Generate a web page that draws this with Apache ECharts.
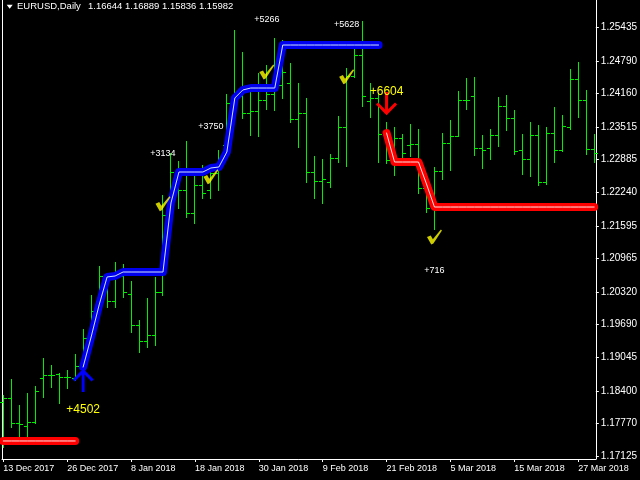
<!DOCTYPE html>
<html><head><meta charset="utf-8">
<script src="https://cdn.jsdelivr.net/npm/echarts@6/dist/echarts.min.js"></script>
<style>html,body{margin:0;padding:0;background:#000}#c{width:640px;height:480px}</style>
</head><body><div id="c"></div>
<script>
const dates = ['13 Dec 2017','14 Dec 2017','15 Dec 2017','18 Dec 2017','19 Dec 2017','20 Dec 2017','21 Dec 2017','22 Dec 2017',
'26 Dec 2017','27 Dec 2017','28 Dec 2017','29 Dec 2017','2 Jan 2018','3 Jan 2018','4 Jan 2018','5 Jan 2018',
'8 Jan 2018','9 Jan 2018','10 Jan 2018','11 Jan 2018','12 Jan 2018','15 Jan 2018','16 Jan 2018','17 Jan 2018',
'18 Jan 2018','19 Jan 2018','22 Jan 2018','23 Jan 2018','24 Jan 2018','25 Jan 2018','26 Jan 2018','29 Jan 2018',
'30 Jan 2018','31 Jan 2018','1 Feb 2018','2 Feb 2018','5 Feb 2018','6 Feb 2018','7 Feb 2018','8 Feb 2018',
'9 Feb 2018','12 Feb 2018','13 Feb 2018','14 Feb 2018','15 Feb 2018','16 Feb 2018','19 Feb 2018','20 Feb 2018',
'21 Feb 2018','22 Feb 2018','23 Feb 2018','26 Feb 2018','27 Feb 2018','28 Feb 2018','1 Mar 2018','2 Mar 2018',
'5 Mar 2018','6 Mar 2018','7 Mar 2018','8 Mar 2018','9 Mar 2018','12 Mar 2018','13 Mar 2018','14 Mar 2018',
'15 Mar 2018','16 Mar 2018','19 Mar 2018','20 Mar 2018','21 Mar 2018','22 Mar 2018','23 Mar 2018','26 Mar 2018',
'27 Mar 2018','28 Mar 2018','29 Mar 2018'];
const open = [1.18185,1.18263,1.17779,1.17720,1.17798,1.18650,1.18708,1.18728,1.18670,1.18650,
1.18883,1.19425,1.20142,1.20548,1.20142,1.20626,1.20277,1.19677,1.19367,1.19483,
1.20316,1.22001,1.22640,1.22292,1.21846,1.22389,1.22292,1.22621,1.23163,1.23977,
1.24112,1.23783,1.23822,1.24035,1.24151,1.24326,1.24364,1.23667,1.23783,1.22640,
1.22466,1.22447,1.22912,1.23512,1.24500,1.24907,1.24016,1.24074,1.23376,1.22873,
1.23299,1.23163,1.23183,1.22330,1.21943,1.22660,1.23202,1.23338,1.24035,1.24112,
1.23105,1.23105,1.23357,1.23919,1.23686,1.23067,1.22892,1.23357,1.22447,1.23396,
1.23067,1.23512,1.24442,1.24035,1.23086];
const high = [1.18321,1.18631,1.18127,1.18360,1.18495,1.19038,1.18902,1.18747,1.18805,1.19115,
1.19599,1.20258,1.20820,1.20587,1.20897,1.20858,1.20529,1.19774,1.20200,1.20607,
1.22195,1.23008,1.22853,1.23241,1.22582,1.22776,1.22737,1.23067,1.24151,1.25391,
1.24965,1.24267,1.24558,1.24713,1.25236,1.25197,1.24752,1.24364,1.24074,1.22950,
1.22892,1.22989,1.23725,1.24655,1.25100,1.25565,1.24364,1.24171,1.23609,1.23512,
1.23376,1.23570,1.23473,1.22427,1.22737,1.23396,1.23648,1.24209,1.24461,1.24481,
1.23357,1.23473,1.24093,1.24132,1.23841,1.23376,1.23609,1.23551,1.23512,1.23899,
1.23744,1.24635,1.24771,1.24229,1.23376];
const low = [1.17314,1.17701,1.17507,1.17507,1.17779,1.18282,1.18476,1.18166,1.18456,1.18611,
1.18863,1.19580,1.20103,1.20025,1.20025,1.20219,1.19541,1.19154,1.19251,1.19289,
1.20258,1.21904,1.21943,1.21769,1.21652,1.22137,1.22137,1.22292,1.23125,1.23938,
1.23686,1.23357,1.23338,1.23861,1.23841,1.24074,1.23609,1.23125,1.22447,1.22137,
1.22040,1.22350,1.22834,1.22757,1.24481,1.23919,1.23706,1.22834,1.22815,1.22582,
1.22931,1.22950,1.22234,1.21866,1.21536,1.22505,1.22679,1.23338,1.23861,1.22970,
1.22718,1.22892,1.23144,1.23454,1.22989,1.22602,1.22563,1.22389,1.22408,1.22834,
1.23047,1.23473,1.23706,1.22989,1.22834];
const close = [1.18263,1.17779,1.17759,1.17798,1.18398,1.18708,1.18708,1.18670,1.18670,1.18883,
1.19425,1.19948,1.20626,1.20142,1.20626,1.20316,1.19677,1.19367,1.19483,1.20316,
1.21807,1.22640,1.22292,1.21846,1.22389,1.22234,1.22621,1.22873,1.23977,1.24151,
1.23783,1.23822,1.24035,1.24151,1.24326,1.24577,1.23667,1.23783,1.22640,1.22466,
1.22505,1.22912,1.23512,1.24500,1.24907,1.24112,1.24074,1.23376,1.22873,1.23299,
1.23008,1.23183,1.22330,1.21943,1.22660,1.23202,1.23338,1.24035,1.24035,1.23105,
1.23067,1.23357,1.23919,1.23686,1.23047,1.22892,1.23357,1.22447,1.23396,1.23067,
1.23531,1.24442,1.24035,1.23086,1.23008];

const dateTickIdx = [0,8,16,24,32,40,48,56,64,72];
const priceTicks = [1.17125,1.17770,1.18400,1.19045,1.19690,1.20320,1.20965,1.21595,1.22240,1.22885,1.23515,1.24160,1.24790,1.25435];

const blueStart = 10;
const blueLine = [1.18863,1.19444,1.20064,1.20607,1.20626,1.20703,1.20703,1.20703,1.20703,1.20703,
1.20703,1.22040,1.22640,1.22640,1.22640,1.22640,1.22718,1.22737,1.23028,1.24074,
1.24229,1.24267,1.24267,1.24267,1.24267,1.25100,1.25100,1.25100,1.25100,1.25100,
1.25100,1.25100,1.25100,1.25100,1.25100,1.25100,1.25100,1.25100];
const redStart1 = 0;
const redLine1 = [1.17430,1.17430,1.17430,1.17430,1.17430,1.17430,1.17430,1.17430,1.17430,1.17430];
const redStart2 = 48;
const redLine2 = [1.23396,1.22834,1.22834,1.22834,1.22834,1.22408,1.21962,1.21962,1.21962,1.21962,
1.21962,1.21962,1.21962,1.21962,1.21962,1.21962,1.21962,1.21962,1.21962,1.21962,
1.21962,1.21962,1.21962,1.21962,1.21962,1.21962,1.21962];

const arrowIdx = [10, 48];
const arrowPrice = [1.18786, 1.23783];
const arrowDir = ['up', 'down'];

const labelIdx = [10, 48, 20, 26, 33, 43, 54];
const labelPrice = [1.18040, 1.24196, 1.22999, 1.23512, 1.25590, 1.25494, 1.20732];
const labelText = ['+4502', '+6604', '+3134', '+3750', '+5266', '+5628', '+716'];
const labelKind = ['entry', 'entry', 'exit', 'exit', 'exit', 'exit', 'exit'];

const checkIdx = [20, 26, 33, 43, 54];
const checkPrice = [1.22026, 1.22549, 1.24577, 1.24486, 1.21381];

const symbolName = 'EURUSD,Daily';
const headerQuote = '1.16644 1.16889 1.15836 1.15982';

const FONT = 'Liberation Sans, Arial, sans-serif';
const GREEN = '#00ee00';
const Y_MIN = 1.17081, Y_MAX = 1.25972;

const chart = echarts.init(document.getElementById('c'), null, {renderer: 'canvas'});

function lineSeries(start, vals, color, width, z) {
  return {
    type: 'line', data: vals.map((v, k) => [start + k, v]),
    symbol: 'none', showSymbol: false, silent: true, z: z,
    lineStyle: {color: color, width: width, cap: 'round', join: 'round'}
  };
}

const option = {
  backgroundColor: '#000000',
  animation: false,
  grid: {left: 2, right: 43, top: 0, bottom: 21, containLabel: false},
  xAxis: {
    type: 'value', min: -0.1625, max: 74.2125,
    axisLine: {show: true, onZero: false, lineStyle: {color: '#ffffff', width: 1}},
    axisTick: {show: true, length: 3, customValues: dateTickIdx, lineStyle: {color: '#ffffff'}},
    axisLabel: {customValues: dateTickIdx, formatter: v => dates[Math.round(v)], color: '#ffffff',
      fontSize: 9, fontFamily: FONT, align: 'left', verticalAlign: 'middle', margin: 9.5},
    splitLine: {show: false}
  },
  yAxis: [{
    type: 'value', position: 'right', min: Y_MIN, max: Y_MAX,
    axisLine: {show: true, onZero: false, lineStyle: {color: '#ffffff', width: 1}},
    axisTick: {show: true, length: 3, customValues: priceTicks, lineStyle: {color: '#ffffff'}},
    axisLabel: {customValues: priceTicks, formatter: v => v.toFixed(5), color: '#ffffff',
      fontSize: 10, fontFamily: FONT, margin: 5},
    splitLine: {show: false}
  }, {
    type: 'value', position: 'left', min: Y_MIN, max: Y_MAX,
    axisLine: {show: true, onZero: false, lineStyle: {color: '#ffffff', width: 1}},
    axisTick: {show: false}, axisLabel: {show: false}, splitLine: {show: false}
  }],
  graphic: [
    {type: 'polygon', shape: {points: [[6.7, 4.7], [12.7, 4.7], [9.7, 8.7]]}, style: {fill: '#ffffff'}},
    {type: 'text', x: 17, y: 6.5, style: {text: symbolName, fill: '#ffffff', font: '9.5px ' + FONT, verticalAlign: 'middle'}},
    {type: 'text', x: 88, y: 6.5, style: {text: headerQuote, fill: '#ffffff', font: '9.5px ' + FONT, verticalAlign: 'middle'}}
  ],
  series: [
    {
      type: 'custom', name: 'bars', z: 2, silent: true,
      data: dates.map((d, i) => [i, open[i], high[i], low[i], close[i]]),
      encode: {x: 0, y: [1, 2, 3, 4]},
      renderItem: function (params, api) {
        const i = api.value(0);
        const pO = api.coord([i, api.value(1)]);
        const pH = api.coord([i, api.value(2)]);
        const pL = api.coord([i, api.value(3)]);
        const pC = api.coord([i, api.value(4)]);
        const x = Math.round(pO[0] - 0.5);
        const yH = Math.round(pH[1]), yL = Math.round(pL[1]);
        return {type: 'group', children: [
          {type: 'rect', shape: {x: x, y: yH, width: 1, height: Math.max(1, yL - yH + 1)}, style: {fill: GREEN}},
          {type: 'rect', shape: {x: x - 3, y: Math.round(pO[1]), width: 3, height: 1}, style: {fill: GREEN}},
          {type: 'rect', shape: {x: x + 1, y: Math.round(pC[1]), width: 3, height: 1}, style: {fill: GREEN}}
        ]};
      }
    },
    lineSeries(redStart1, redLine1, '#ff0000', 8, 3),
    lineSeries(redStart1, redLine1, '#ffe6e6', 1, 4),
    lineSeries(blueStart, blueLine, '#0000ee', 8, 3),
    lineSeries(blueStart, blueLine, '#cfe4ff', 1, 4),
    lineSeries(redStart2, redLine2, '#ff0000', 8, 3),
    lineSeries(redStart2, redLine2, '#ffe6e6', 1, 4),
    {
      type: 'scatter', name: 'checks', z: 5, silent: true,
      data: checkIdx.map((i, k) => [i, checkPrice[k]]),
      symbol: 'path://M0,7 L3.5,5.5 L5.5,9 L13,0 L14,1 L6,13 L4,14 Z',
      symbolSize: [15, 15],
      itemStyle: {color: '#ffff00'}
    },
    {
      type: 'custom', name: 'arrows', z: 6, silent: true,
      data: arrowIdx.map((i, k) => [i, arrowPrice[k], k]),
      renderItem: function (params, api) {
        const p = api.coord([api.value(0), api.value(1)]);
        const k = api.value(2);
        const up = arrowDir[k] === 'up';
        const s = up ? 1 : -1;
        const col = up ? '#0000ff' : '#ff0000';
        return {type: 'group', children: [
          {type: 'polyline', shape: {points: [[p[0] - 9.5, p[1] + s * 9.5], [p[0], p[1]], [p[0] + 9.5, p[1] + s * 9.5]]},
            style: {stroke: col, lineWidth: 3, fill: null}},
          {type: 'line', shape: {x1: p[0], y1: p[1], x2: p[0], y2: p[1] + s * 21},
            style: {stroke: col, lineWidth: 3}}
        ]};
      }
    },
    {
      type: 'custom', name: 'labels', z: 7, silent: true,
      data: labelIdx.map((i, k) => [i, labelPrice[k], k]),
      renderItem: function (params, api) {
        const p = api.coord([api.value(0), api.value(1)]);
        const k = api.value(2);
        const entry = labelKind[k] === 'entry';
        return {type: 'text', x: p[0], y: p[1], style: {
          text: labelText[k], fill: entry ? '#ffff00' : '#ffffff',
          font: (entry ? '12px ' : '9px ') + FONT, align: 'center', verticalAlign: 'middle'}};
      }
    }
  ]
};
chart.setOption(option);
</script>
</body></html>
